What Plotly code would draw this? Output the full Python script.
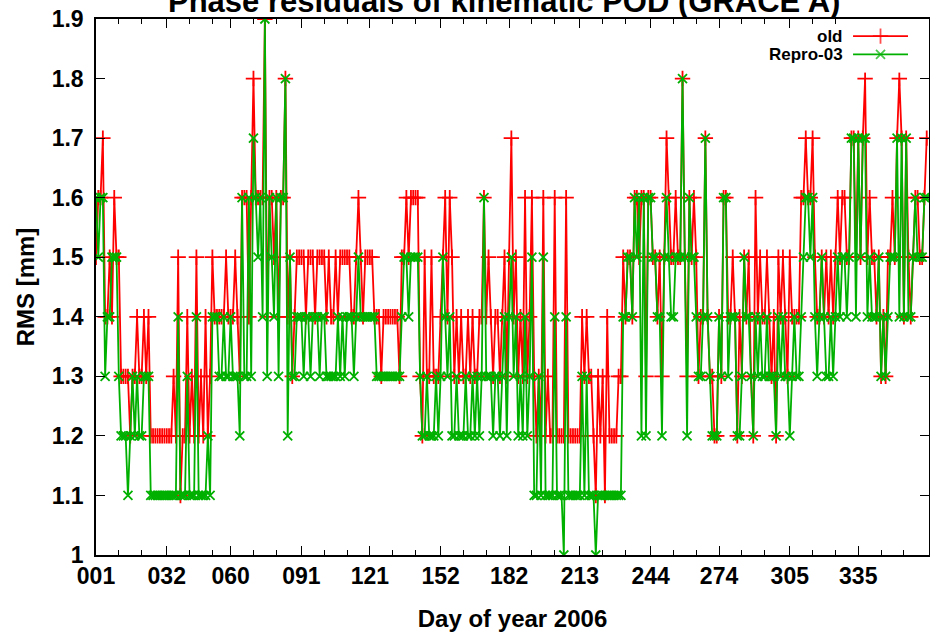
import plotly.graph_objects as go

# ---------------- data ----------------
days = list(range(1, 366))

old = [
    1.5, 1.6, 1.6, 1.7, 1.4, 1.4, 1.5, 1.4, 1.6, 1.5,
    1.5, 1.3, 1.3, 1.3, 1.3, 1.2, 1.3, 1.3, 1.4, 1.3,
    1.3, 1.4, 1.3, 1.4, 1.2, 1.2, 1.2, 1.2, 1.2, 1.2,
    1.2, 1.2, 1.2, 1.2, 1.3, 1.2, 1.5, 1.1, 1.2, 1.2,
    1.4, 1.2, 1.3, 1.2, 1.5, 1.2, 1.3, 1.2, 1.4, 1.2,
    1.3, 1.5, 1.4, 1.4, 1.4, 1.4, 1.4, 1.5, 1.4, 1.4,
    1.4, 1.5, 1.4, 1.3, 1.6, 1.6, 1.6, 1.4, 1.6, 1.8,
    1.6, 1.6, 1.6, 1.6, 1.9, 1.4, 1.6, 1.6, 1.5, 1.6,
    1.4, 1.6, 1.6, 1.8, 1.4, 1.5, 1.3, 1.4, 1.5, 1.5,
    1.5, 1.5, 1.4, 1.5, 1.5, 1.5, 1.4, 1.5, 1.5, 1.5,
    1.5, 1.4, 1.5, 1.4, 1.4, 1.5, 1.4, 1.5, 1.5, 1.5,
    1.5, 1.5, 1.4, 1.4, 1.5, 1.6, 1.5, 1.4, 1.5, 1.5,
    1.5, 1.5, 1.4, 1.4, 1.4, 1.3, 1.4, 1.4, 1.4, 1.4,
    1.4, 1.4, 1.4, 1.3, 1.5, 1.5, 1.6, 1.5, 1.6, 1.6,
    1.6, 1.6, 1.3, 1.2, 1.5, 1.3, 1.3, 1.5, 1.3, 1.3,
    1.3, 1.4, 1.5, 1.6, 1.4, 1.6, 1.5, 1.3, 1.4, 1.3,
    1.4, 1.3, 1.3, 1.4, 1.3, 1.4, 1.3, 1.3, 1.4, 1.4,
    1.6, 1.4, 1.5, 1.4, 1.3, 1.4, 1.4, 1.3, 1.4, 1.5,
    1.3, 1.5, 1.7, 1.4, 1.5, 1.3, 1.4, 1.3, 1.6, 1.3,
    1.4, 1.6, 1.3, 1.2, 1.3, 1.2, 1.6, 1.2, 1.3, 1.2,
    1.2, 1.6, 1.2, 1.2, 1.2, 1.2, 1.6, 1.2, 1.2, 1.2,
    1.2, 1.2, 1.2, 1.4, 1.3, 1.4, 1.3, 1.3, 1.2, 1.1,
    1.3, 1.2, 1.3, 1.1, 1.4, 1.2, 1.2, 1.2, 1.2, 1.3,
    1.3, 1.5, 1.4, 1.5, 1.5, 1.4, 1.6, 1.6, 1.5, 1.6,
    1.6, 1.3, 1.6, 1.6, 1.5, 1.5, 1.4, 1.5, 1.3, 1.5,
    1.7, 1.6, 1.5, 1.5, 1.6, 1.5, 1.5, 1.8, 1.5, 1.3,
    1.6, 1.5, 1.6, 1.5, 1.3, 1.4, 1.4, 1.7, 1.4, 1.3,
    1.3, 1.2, 1.2, 1.4, 1.3, 1.6, 1.6, 1.4, 1.4, 1.5,
    1.4, 1.2, 1.4, 1.3, 1.5, 1.4, 1.5, 1.3, 1.2, 1.6,
    1.4, 1.5, 1.4, 1.4, 1.5, 1.4, 1.3, 1.4, 1.2, 1.5,
    1.4, 1.5, 1.4, 1.3, 1.5, 1.4, 1.4, 1.4, 1.4, 1.6,
    1.6, 1.7, 1.6, 1.6, 1.7, 1.5, 1.4, 1.4, 1.5, 1.4,
    1.5, 1.4, 1.5, 1.4, 1.5, 1.6, 1.5, 1.6, 1.6, 1.5,
    1.5, 1.7, 1.7, 1.5, 1.7, 1.5, 1.7, 1.8, 1.5, 1.6,
    1.5, 1.5, 1.4, 1.5, 1.3, 1.4, 1.3, 1.5, 1.5, 1.6,
    1.5, 1.7, 1.8, 1.7, 1.4, 1.7, 1.5, 1.4, 1.5, 1.6,
    1.6, 1.5, 1.5, 1.6, 1.7,
]

repro = [
    1.6, 1.5, 1.6, 1.6, 1.3, 1.4, 1.4, 1.5, 1.5, 1.5,
    1.3, 1.2, 1.2, 1.2, 1.1, 1.2, 1.3, 1.2, 1.3, 1.2,
    1.2, 1.3, 1.3, 1.3, 1.1, 1.1, 1.1, 1.1, 1.1, 1.1,
    1.1, 1.1, 1.1, 1.1, 1.1, 1.1, 1.4, 1.1, 1.1, 1.1,
    1.3, 1.1, 1.1, 1.1, 1.4, 1.1, 1.1, 1.1, 1.1, 1.2,
    1.1, 1.4, 1.4, 1.4, 1.3, 1.3, 1.4, 1.3, 1.3, 1.4,
    1.3, 1.3, 1.3, 1.2, 1.6, 1.3, 1.3, 1.6, 1.3, 1.7,
    1.6, 1.5, 1.6, 1.4, 1.9, 1.3, 1.6, 1.5, 1.4, 1.6,
    1.3, 1.6, 1.6, 1.8, 1.2, 1.5, 1.3, 1.3, 1.4, 1.4,
    1.4, 1.3, 1.4, 1.4, 1.3, 1.4, 1.4, 1.4, 1.3, 1.4,
    1.4, 1.3, 1.3, 1.3, 1.3, 1.3, 1.4, 1.3, 1.4, 1.3,
    1.4, 1.4, 1.4, 1.3, 1.4, 1.5, 1.4, 1.4, 1.4, 1.4,
    1.4, 1.4, 1.4, 1.3, 1.3, 1.3, 1.3, 1.3, 1.3, 1.3,
    1.3, 1.3, 1.3, 1.3, 1.4, 1.5, 1.5, 1.4, 1.5, 1.5,
    1.5, 1.5, 1.3, 1.2, 1.2, 1.3, 1.2, 1.2, 1.2, 1.3,
    1.2, 1.3, 1.5, 1.4, 1.3, 1.4, 1.2, 1.2, 1.3, 1.2,
    1.2, 1.2, 1.3, 1.2, 1.2, 1.3, 1.2, 1.3, 1.2, 1.3,
    1.6, 1.3, 1.3, 1.3, 1.2, 1.3, 1.3, 1.2, 1.3, 1.4,
    1.2, 1.4, 1.5, 1.3, 1.4, 1.2, 1.3, 1.2, 1.4, 1.2,
    1.3, 1.5, 1.1, 1.1, 1.3, 1.1, 1.5, 1.1, 1.1, 1.1,
    1.1, 1.4, 1.1, 1.1, 1.1, 1.0, 1.4, 1.1, 1.1, 1.1,
    1.1, 1.1, 1.1, 1.3, 1.1, 1.3, 1.1, 1.1, 1.1, 1.0,
    1.1, 1.1, 1.1, 1.1, 1.1, 1.1, 1.1, 1.1, 1.1, 1.1,
    1.1, 1.4, 1.4, 1.5, 1.5, 1.4, 1.6, 1.5, 1.6, 1.2,
    1.6, 1.2, 1.6, 1.6, 1.5, 1.5, 1.4, 1.4, 1.2, 1.5,
    1.6, 1.5, 1.4, 1.4, 1.5, 1.5, 1.5, 1.8, 1.5, 1.2,
    1.6, 1.5, 1.5, 1.4, 1.3, 1.3, 1.4, 1.7, 1.4, 1.3,
    1.2, 1.2, 1.2, 1.4, 1.3, 1.6, 1.6, 1.3, 1.4, 1.4,
    1.4, 1.2, 1.2, 1.3, 1.5, 1.4, 1.4, 1.3, 1.2, 1.4,
    1.3, 1.4, 1.3, 1.3, 1.4, 1.3, 1.3, 1.3, 1.2, 1.4,
    1.3, 1.4, 1.3, 1.3, 1.2, 1.3, 1.4, 1.3, 1.3, 1.4,
    1.5, 1.6, 1.6, 1.5, 1.6, 1.4, 1.3, 1.4, 1.5, 1.4,
    1.3, 1.3, 1.4, 1.3, 1.4, 1.5, 1.4, 1.5, 1.5, 1.4,
    1.5, 1.7, 1.7, 1.4, 1.7, 1.5, 1.7, 1.7, 1.4, 1.5,
    1.4, 1.4, 1.4, 1.5, 1.3, 1.4, 1.3, 1.4, 1.5, 1.5,
    1.5, 1.7, 1.4, 1.7, 1.4, 1.7, 1.4, 1.4, 1.5, 1.6,
    1.5, 1.5, 1.5, 1.6, 1.6,
]

assert len(old) == len(days) == len(repro)

month_ticks = [1, 32, 60, 91, 121, 152, 182, 213, 244, 274, 305, 335]
month_labels = ["001", "032", "060", "091", "121", "152", "182", "213",
                "244", "274", "305", "335"]
minor_ticks = [11, 21, 42, 52, 70, 80, 101, 111, 131, 141, 162, 172, 192, 202,
               223, 233, 254, 264, 284, 294, 315, 325, 345, 355]
y_ticks = [1.0, 1.1, 1.2, 1.3, 1.4, 1.5, 1.6, 1.7, 1.8, 1.9]
y_labels = ["1", "1.1", "1.2", "1.3", "1.4", "1.5", "1.6", "1.7", "1.8", "1.9"]

series_names = ["old", "Repro-03"]
title_text = "Phase residuals of kinematic POD (GRACE A)"
x_title = "Day of year 2006"
y_title = "RMS [mm]"

# ---------------- style ----------------
RED = "#ff0000"
GREEN = "#00b000"
FONT = "Liberation Sans, Arial, Helvetica, sans-serif"
X_RANGE = [1, 366]
Y_RANGE = [1.0, 1.9]


def f(size):
    return dict(size=size, family=FONT, color="black", weight="bold")


fig = go.Figure()

fig.add_trace(go.Scatter(
    x=days, y=old, name=series_names[0], mode="lines+markers",
    line=dict(color=RED, width=1.8),
    marker=dict(symbol="cross-thin-open", size=11, color=RED,
                line=dict(color=RED, width=1.8)),
    xaxis="x", yaxis="y", showlegend=False,
))
fig.add_trace(go.Scatter(
    x=days, y=repro, name=series_names[1], mode="lines+markers",
    line=dict(color=GREEN, width=1.8),
    marker=dict(symbol="x-thin-open", size=9, color=GREEN,
                line=dict(color=GREEN, width=1.8)),
    xaxis="x2", yaxis="y2", showlegend=False,
))

# legend keys (drawn on a small helper axis in the top-right corner)
key_rows = [0.68, 0.34]
fig.add_trace(go.Scatter(
    x=[0, 0.5, 1], y=[key_rows[0]] * 3, mode="lines+markers",
    line=dict(color=RED, width=1.8),
    marker=dict(symbol="cross-thin-open", size=[0, 11, 0], color=RED,
                line=dict(color=RED, width=1.8)),
    xaxis="x3", yaxis="y3", showlegend=False, hoverinfo="skip",
))
fig.add_trace(go.Scatter(
    x=[0, 0.5, 1], y=[key_rows[1]] * 3, mode="lines+markers",
    line=dict(color=GREEN, width=1.8),
    marker=dict(symbol="x-thin-open", size=[0, 9, 0], color=GREEN,
                line=dict(color=GREEN, width=1.8)),
    xaxis="x3", yaxis="y3", showlegend=False, hoverinfo="skip",
))

common_x = dict(
    range=X_RANGE, tickmode="array", tickvals=month_ticks, ticktext=month_labels,
    ticks="inside", ticklen=9, tickwidth=1.2, tickcolor="black",
    showline=True, linecolor="black", linewidth=1.5,
    showgrid=False, zeroline=False,
    minor=dict(tickmode="array", tickvals=minor_ticks, ticks="inside",
               ticklen=5, tickwidth=1.2, tickcolor="black", showgrid=False),
)
common_y = dict(
    range=Y_RANGE, tickmode="array", tickvals=y_ticks, ticktext=y_labels,
    ticks="inside", ticklen=9, tickwidth=1.2, tickcolor="black",
    showline=True, linecolor="black", linewidth=1.5,
    showgrid=False, zeroline=False,
)

fig.update_layout(
    width=930, height=636,
    margin=dict(l=96, r=1, t=19, b=81),
    paper_bgcolor="white", plot_bgcolor="white",
    font=dict(family=FONT, color="black", size=24),
    xaxis=dict(**common_x, side="bottom", tickfont=f(23),
               title=dict(text=x_title, font=f(24), standoff=22)),
    xaxis2=dict(**common_x, overlaying="x", side="top", anchor="y2",
                showticklabels=False),
    yaxis=dict(**common_y, side="left", ticklabelstandoff=6, tickfont=f(23),
               title=dict(text=y_title, font=f(24), standoff=10)),
    yaxis2=dict(**common_y, overlaying="y", side="right", anchor="x2",
                showticklabels=False),
    xaxis3=dict(domain=[0.9088, 0.9748], range=[0, 1], visible=False,
                anchor="y3", fixedrange=True),
    yaxis3=dict(domain=[0.9, 1.0], range=[0, 1], visible=False,
                anchor="x3", fixedrange=True),
    annotations=[
        dict(text=title_text, xref="paper", yref="paper", x=0.49, y=0.9965,
             xanchor="center", yanchor="bottom", showarrow=False, font=f(31)),
        dict(text=series_names[0], xref="paper", yref="y3", x=0.899, y=key_rows[0],
             xanchor="right", yanchor="middle", showarrow=False, font=f(17)),
        dict(text=series_names[1], xref="paper", yref="y3", x=0.899, y=key_rows[1],
             xanchor="right", yanchor="middle", showarrow=False, font=f(17)),
    ],
)

fig.write_html(
    "out.html",
    config={"displayModeBar": False},
    post_script="document.body.style.margin='0';document.body.style.overflow='hidden';",
)
